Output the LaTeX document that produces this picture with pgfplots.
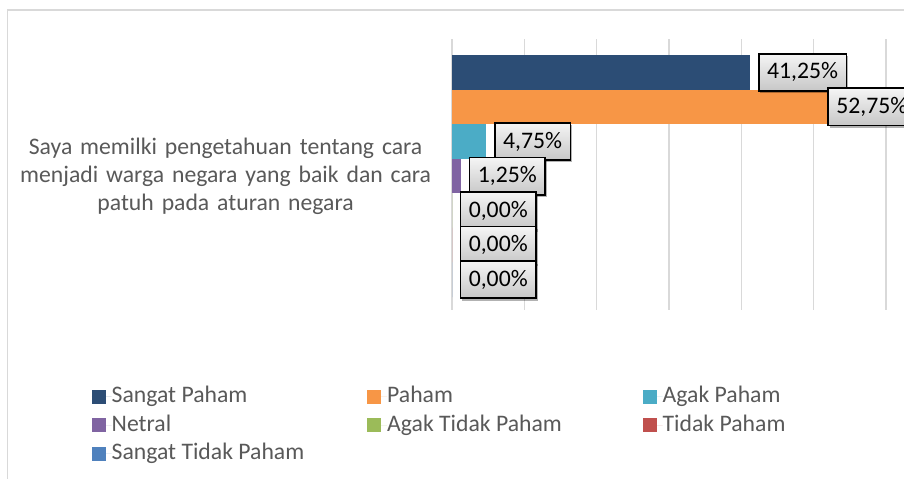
\documentclass[border=0pt]{standalone}
\usepackage{fontspec}
\setmainfont{Carlito}
\usepackage{pgfplots}
\pgfplotsset{compat=1.18}
\usetikzlibrary{shadows}

\definecolor{cSP}{HTML}{2C4D75}
\definecolor{cP}{HTML}{F79646}
\definecolor{cAP}{HTML}{4BACC6}
\definecolor{cN}{HTML}{8064A2}
\definecolor{cATP}{HTML}{9BBB59}
\definecolor{cTP}{HTML}{C0504D}
\definecolor{cSTP}{HTML}{4F81BD}
\definecolor{gridc}{HTML}{D9D9D9}
\definecolor{txt}{HTML}{595959}
\newcommand{\cf}{\fontsize{11.85}{14.1}\selectfont}
\newcommand{\legcell}[1]{\makebox[127.9pt][l]{#1}}

\begin{document}
\begin{tikzpicture}
  \useasboundingbox (0,0) rectangle (452pt,239pt);
  \clip (0,0) rectangle (452pt,239pt);
  \fill[white] (0,0) rectangle (452pt,239pt);
  % chart border (right and bottom are cut off)
  \draw[gridc, line width=0.75pt] (3.65pt,-5pt) -- (3.65pt,234pt) -- (460pt,234pt);
  \begin{axis}[
      at={(226pt,84pt)}, anchor=south west,
      scale only axis, width=217pt, height=135.5pt,
      xbar, bar width=1, bar shift=0pt,
      xmin=0, xmax=60, ymin=-0.963, ymax=6.876, y dir=reverse,
      xtick={0,10,...,60}, xticklabels={},
      ytick={3},
      yticklabels={{Saya memilki pengetahuan tentang cara\\menjadi warga negara yang baik dan cara\\patuh pada aturan negara}},
      yticklabel style={text width=215pt, align=center, inner sep=0pt, font=\cf, text=txt, xshift=-5.5pt},
      major tick length=0pt,
      xmajorgrids, major grid style={gridc, line width=0.75pt},
      axis line style={draw=none},
      clip=false,
      /pgf/number format/assume math mode=true,
      point meta=x,
      nodes near coords={\pgfmathprintnumber[fixed, fixed zerofill, precision=2, use comma]{\pgfplotspointmeta}\%},
      every node near coord/.append style={anchor=west, xshift=3.75pt, draw=black, line width=0.9pt,
        font=\cf, text=black, inner xsep=4.2pt, inner ysep=0pt, minimum height=18.6pt,
        top color=black!4, bottom color=black!22,
        drop shadow={shadow xshift=0.8pt, shadow yshift=-1.2pt, opacity=0.3, fill=black}},
      legend columns=3,
      legend cell align=left,
      legend style={at={(-0.8295,-0.2795)}, anchor=north west, draw=none, fill=none,
        inner sep=0pt, outer sep=0pt, column sep=0pt, row sep=3.0pt,
        nodes={inner sep=0pt, font=\cf, text=txt, text height=8.5pt, text depth=2.7pt, anchor=west}},
      legend image code/.code={\path (0pt,0pt) -- (9.85pt,0pt);
        \fill[#1] (0pt,-3.5pt) rectangle (7pt,3.5pt);},
    ]
    \addplot[fill=cSP, draw=none] coordinates {(41.25,0)};
    \addlegendentry{\legcell{Sangat Paham}}
    \addplot[fill=cP, draw=none, every node near coord/.append style={xshift=-7pt}] coordinates {(52.75,1)};
    \addlegendentry{\legcell{Paham}}
    \addplot[fill=cAP, draw=none] coordinates {(4.75,2)};
    \addlegendentry{Agak Paham}
    \addplot[fill=cN, draw=none] coordinates {(1.25,3)};
    \addlegendentry{\legcell{Netral}}
    \addplot[fill=cATP, draw=none] coordinates {(0,4)};
    \addlegendentry{\legcell{Agak Tidak Paham}}
    \addplot[fill=cTP, draw=none] coordinates {(0,5)};
    \addlegendentry{Tidak Paham}
    \addplot[fill=cSTP, draw=none] coordinates {(0,6)};
    \addlegendentry{\legcell{Sangat Tidak Paham}}
  \end{axis}
\end{tikzpicture}
\end{document}
